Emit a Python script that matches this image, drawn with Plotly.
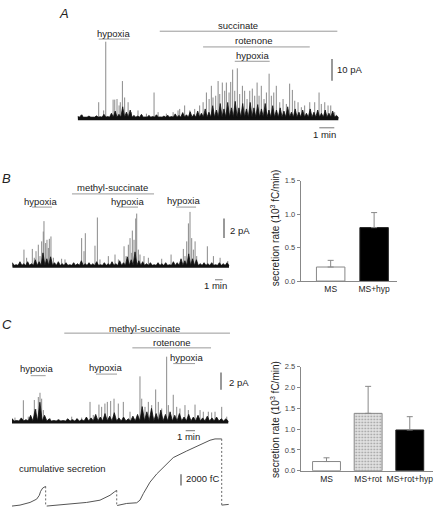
import plotly.graph_objects as go

W, H = 442, 514
FONT = "Liberation Sans, Arial, Helvetica, sans-serif"

# ===================== DATA =====================
# Panel A: amperometric spikes (time in min, amplitude in pA)
A_spike_t = [0.31, 1.40, 1.73, 1.87, 2.36, 2.47, 2.62, 2.76, 2.84, 2.98, 3.13, 3.36, 3.58, 4.02, 4.58,
             5.09, 5.36, 5.91, 6.36, 6.69, 6.80, 7.13, 7.47, 7.80, 8.13, 8.36, 8.58, 8.76, 8.91, 9.02,
             9.20, 9.36, 9.47, 9.64, 9.80, 9.91, 10.09, 10.20, 10.33, 10.47, 10.64, 10.80, 10.98, 11.13,
             11.29, 11.47, 11.64, 11.80, 11.96, 12.09, 12.24, 12.42, 12.58, 12.76, 12.91, 13.07, 13.24,
             13.47, 13.69, 13.91, 14.13, 14.31, 14.47, 14.69, 14.91, 15.13, 15.47, 15.80, 16.09, 16.24,
             16.47, 16.69, 16.87, 17.13]
A_spike_a = [1.8, 7.6, 3.8, 35.6, 8.8, 8.8, 9.1, 6.1, 7.6, 17.4, 9.8, 7.6, 3.0, 3.8, 2.3,
             12.1, 3.0, 2.3, 3.0, 3.8, 4.5, 6.1, 3.8, 4.5, 6.1, 7.6, 12.1, 9.1, 15.2, 9.8,
             10.6, 17.4, 11.4, 16.7, 12.9, 16.7, 12.1, 17.0, 22.7, 12.9, 23.3, 11.4, 15.2, 12.9,
             9.1, 12.9, 13.9, 10.6, 16.7, 10.6, 15.2, 9.1, 12.1, 20.8, 10.6, 12.1, 15.2,
             7.6, 9.1, 6.8, 16.2, 13.3, 8.3, 7.6, 5.3, 6.1, 7.6, 7.6, 12.1, 6.8,
             7.6, 6.1, 6.1, 3.0]
A_env_step = 0.25   # min, sampling of the dense small-event envelope
A_env_a = [1.0, 1.8, 0.8, 1.2, 0.7, 1.3, 0.9, 2.0, 1.0, 2.5,
           3.5, 2.0, 5.5, 3.0, 4.0, 1.5, 1.2, 2.0, 0.8, 1.5,
           1.0, 1.8, 0.8, 1.2, 1.6, 1.0, 2.2, 1.5, 2.8, 1.8,
           3.2, 2.0, 3.5, 2.5, 4.5, 3.0, 6.0, 4.0, 7.0, 4.5,
           7.5, 5.0, 8.0, 5.0, 7.0, 4.5, 7.5, 5.0, 6.5, 4.5,
           7.0, 4.0, 6.0, 4.0, 5.0, 3.5, 5.5, 3.0, 4.5, 3.0,
           4.0, 2.5, 4.5, 3.0, 4.0, 2.5, 4.0, 2.5, 3.5, 1.5]
A_drug_names = ["hypoxia", "succinate", "rotenone", "hypoxia"]
A_drug_start = [1.40, 5.47, 8.36, 10.47]
A_drug_end = [3.42, 17.31, 15.47, 12.80]
A_scale_pA = 10
A_scale_min = 1

# Panel B
B_spike_t = [1.52, 1.87, 2.61, 2.87, 3.09, 3.39, 3.61, 3.83, 4.04, 4.13, 4.35, 4.52, 4.70, 4.83, 5.04,
             5.35, 6.43, 6.87, 9.04, 9.35, 9.52, 10.78, 11.09, 11.43, 12.52, 13.39, 13.83, 14.57, 14.83,
             15.13, 15.35, 15.57, 15.65, 15.87, 16.09, 16.22, 16.43, 16.65, 17.17, 17.74, 19.48, 20.70,
             22.30, 22.52, 22.74, 22.96, 23.17, 23.39, 23.61, 23.83, 24.04, 25.43, 26.22, 27.09, 28.09]
B_spike_a = [1.73, 0.9, 1.8, 0.9, 1.57, 2.23, 1.07, 2.57, 3.57, 4.63, 2.4, 2.73, 1.9, 2.83, 3.07,
             0.9, 0.8, 0.73, 2.9, 1.57, 3.4, 2.13, 5.0, 0.73, 1.07, 1.23, 0.73, 2.07, 1.07,
             2.23, 2.9, 1.4, 3.67, 2.73, 4.9, 5.4, 1.73, 1.23, 1.07, 0.9, 0.8, 1.23,
             1.8, 1.07, 2.57, 4.4, 5.57, 2.9, 1.73, 2.57, 1.07, 2.07, 1.07, 0.9, 0.57]
B_env_step = 0.5
B_env_a = [0.4, 0.2, 0.5, 0.3, 0.5, 0.3, 0.7, 0.5, 1.4, 0.8,
           1.0, 0.4, 0.5, 0.3, 0.4, 0.2, 0.4, 0.3, 0.6, 0.3,
           0.4, 0.3, 0.5, 0.2, 0.4, 0.3, 0.5, 0.3, 0.6, 0.4,
           1.0, 0.7, 1.5, 0.6, 0.5, 0.3, 0.4, 0.2, 0.4, 0.3,
           0.4, 0.2, 0.5, 0.4, 0.8, 0.6, 1.3, 0.8, 0.7, 0.3,
           0.4, 0.3, 0.4, 0.2, 0.4, 0.3, 0.4]
B_drug_names = ["hypoxia", "methyl-succinate", "hypoxia", "hypoxia"]
B_drug_start = [2.57, 7.78, 13.87, 21.35]
B_drug_end = [5.17, 18.48, 16.39, 23.96]
B_scale_pA = 2
B_scale_min = 1

B_cats = ["MS", "MS+hyp"]
B_vals = [0.21, 0.80]
B_err = [0.10, 0.225]

# Panel C
C_spike_t = [0.32, 1.22, 1.75, 2.40, 2.58, 2.83, 3.01, 3.19, 3.37, 4.09, 4.98, 6.42, 6.95, 7.49, 8.39,
             8.74, 9.35, 9.64, 9.99, 10.25, 10.61, 10.97, 11.43, 11.97, 12.69, 13.76, 13.95, 14.30, 14.66,
             15.02, 15.45, 15.73, 16.10, 16.63, 16.81, 17.34, 17.71, 18.06, 18.60, 18.96, 19.68, 20.22,
             20.57, 21.11, 21.47, 21.83, 22.55, 23.09]
C_spike_a = [0.53, 2.53, 0.64, 2.56, 1.51, 2.90, 3.39, 2.71, 1.40, 0.45, 0.27, 0.64, 0.45, 0.53, 2.34,
             0.84, 2.03, 1.77, 2.15, 2.34, 2.45, 2.71, 2.15, 2.34, 1.21, 5.28, 2.71, 1.77, 2.34,
             1.97, 3.77, 2.34, 1.58, 7.54, 1.97, 3.16, 1.77, 1.58, 1.97, 1.40, 2.03, 1.40,
             1.21, 1.21, 1.13, 1.21, 1.77, 0.64]
C_env_step = 0.5
C_env_a = [0.4, 0.2, 0.5, 0.3, 0.8, 1.5, 2.3, 0.8, 0.4, 0.2,
           0.3, 0.2, 0.4, 0.3, 0.4, 0.3, 0.6, 0.5, 0.9, 0.6,
           1.0, 0.7, 1.1, 0.5, 0.6, 0.4, 0.7, 0.9, 1.8, 1.2,
           1.6, 1.0, 1.4, 0.9, 1.2, 0.8, 1.0, 0.6, 0.9, 0.6,
           0.8, 0.5, 0.7, 0.5, 0.6, 0.4, 0.4]
C_drug_names = ["methyl-succinate", "rotenone", "hypoxia", "hypoxia", "hypoxia"]
C_drug_start = [5.62, 12.94, 17.34, 2.01, 9.03]
C_drug_end = [23.44, 21.40, 19.68, 3.62, 11.29]
C_scale_pA = 2
C_scale_min = 1

# cumulative secretion (fC) segments
cum_seg_t = [[0.0, 0.86, 1.94, 2.65, 2.94, 3.08, 3.30, 3.55, 3.62],
             [3.73, 5.88, 8.03, 9.46, 10.54, 11.00, 11.26],
             [11.31, 12.33, 13.41, 13.76, 14.12, 14.84, 15.56, 16.63, 17.34, 18.78, 20.22, 21.29, 21.83, 22.55],
             [22.55, 23.30]]
cum_seg_v = [[0, 170, 640, 1220, 1910, 2610, 3190, 3480, 3480],
             [0, 290, 640, 1040, 1910, 2490, 2780],
             [100, 460, 580, 1040, 2200, 4230, 5680, 7420, 8580, 9740, 10900, 11650, 11880, 11880],
             [170, 290]]
reset_t = [3.62, 11.26, 22.55]
reset_from = [3480, 2780, 11880]
reset_to = [0, 100, 170]
cum_scale_fC = 2000

C_cats = ["MS", "MS+rot", "MS+rot+hyp"]
C_vals = [0.22, 1.38, 0.98]
C_err = [0.09, 0.65, 0.32]

# ===================== LAYOUT (pixel geometry) =====================
P_A = dict(i=1, x0=77.7, xr=345, ppm=15.0, base=116.7, ppu=2.2, top=15, bot=140)
P_B = dict(i=2, x0=12.3, xr=240, ppm=7.67, base=267.3, ppu=10.0, top=170, bot=292)
P_C = dict(i=4, x0=12.0, xr=240, ppm=9.3, base=425.7, ppu=8.85, top=320, bot=436)
P_S = dict(i=5, x0=12.0, xr=240, ppm=9.3, base=511.0, ppu=11.5 / 2000, top=436, bot=514)


def ax(i, a):
    return f"{a}axis" if i == 1 else f"{a}axis{i}"


def rf(i, a):
    return a if i == 1 else f"{a}{i}"


def ty(P, py):
    return (P["base"] - py) / P["ppu"]


def tx(P, px):
    return (px - P["x0"]) / P["ppm"]


fig = go.Figure()
layout = dict(width=W, height=H, margin=dict(l=0, r=0, t=0, b=0), showlegend=False,
              paper_bgcolor="white", plot_bgcolor="rgba(0,0,0,0)", hovermode=False,
              font=dict(family=FONT, size=9.5, color="#222"))
shapes, annotations = [], []

SPIKE_COL = "#8a8a8a"
DRUG_COL = "#9a9a9a"


def trace_axes(P):
    i = P["i"]
    layout[ax(i, "x")] = dict(domain=[P["x0"] / W, P["xr"] / W],
                              range=[0, (P["xr"] - P["x0"]) / P["ppm"]],
                              visible=False, anchor=rf(i, "y"), fixedrange=True)
    layout[ax(i, "y")] = dict(domain=[1 - P["bot"] / H, 1 - P["top"] / H],
                              range=[(P["base"] - P["bot"]) / P["ppu"], (P["base"] - P["top"]) / P["ppu"]],
                              visible=False, anchor=rf(i, "x"), fixedrange=True)


def add_spikes(P, ts, amps, env_step, env_a, band_px):
    i = P["i"]
    xs, ys = [], []
    for t, a in zip(ts, amps):
        xs += [t, t, None]
        ys += [0, a, None]
    fig.add_trace(go.Scatter(x=xs, y=ys, mode="lines", line=dict(color=SPIKE_COL, width=1),
                             xaxis=rf(i, "x"), yaxis=rf(i, "y")))
    # dense small events: narrow black triangles at each envelope sample
    mid = (band_px * 0.5) / P["ppu"]
    zx, zy = [0.0], [mid]
    for k, a in enumerate(env_a):
        t = k * env_step
        zx += [t, t + env_step * 0.5]
        zy += [a, mid]
    fig.add_trace(go.Scatter(x=zx, y=zy, mode="lines", fill="tozeroy", fillcolor="#111",
                             line=dict(color="#111", width=0.8),
                             xaxis=rf(i, "x"), yaxis=rf(i, "y")))
    # thick baseline
    fig.add_trace(go.Scatter(x=[0, zx[-1]], y=[0, 0], mode="lines",
                             line=dict(color="#111", width=band_px),
                             xaxis=rf(i, "x"), yaxis=rf(i, "y")))


def add_drugs(P, starts, ends, line_pys):
    i = P["i"]
    for s, e, py in zip(starts, ends, line_pys):
        shapes.append(dict(type="line", xref=rf(i, "x"), yref=rf(i, "y"), x0=s, x1=e,
                           y0=ty(P, py), y1=ty(P, py), line=dict(color=DRUG_COL, width=1)))


def add_vbar(P, px, py_bottom, size):
    i = P["i"]
    t = tx(P, px)
    y0 = ty(P, py_bottom)
    shapes.append(dict(type="line", xref=rf(i, "x"), yref=rf(i, "y"), x0=t, x1=t, y0=y0, y1=y0 + size,
                       line=dict(color="#777", width=1.5)))


def add_hbar(P, px_left, py, size):
    i = P["i"]
    t = tx(P, px_left)
    shapes.append(dict(type="line", xref=rf(i, "x"), yref=rf(i, "y"), x0=t, x1=t + size,
                       y0=ty(P, py), y1=ty(P, py), line=dict(color="#777", width=1)))


def text(s, px, py, xanchor="center", size=9.5, angle=0, color="#222"):
    annotations.append(dict(text=s, x=px / W, y=1 - py / H, xref="paper", yref="paper",
                            xanchor=xanchor, yanchor="middle", showarrow=False, textangle=angle,
                            font=dict(family=FONT, size=size, color=color)))


# ---------- Panel A ----------
trace_axes(P_A)
add_spikes(P_A, A_spike_t, A_spike_a, A_env_step, A_env_a, 3.0)
add_drugs(P_A, A_drug_start, A_drug_end, [35.7, 27.7, 43.7, 58.3])
for name, px, py in zip(A_drug_names, [113.3, 237.7, 254.0, 252.3], [30.0, 22.3, 37.3, 52.3]):
    text(name, px, py)
add_vbar(P_A, 332, 78, A_scale_pA)
text(f"{A_scale_pA} pA", 335, 66.7, xanchor="left")
add_hbar(P_A, 319.3, 126, A_scale_min)
text(f"{A_scale_min} min", 324.7, 132.5)
text("<i>A</i>", 64, 10, size=13)

# ---------- Panel B trace ----------
trace_axes(P_B)
add_spikes(P_B, B_spike_t, B_spike_a, B_env_step, B_env_a, 2.5)
add_drugs(P_B, B_drug_start, B_drug_end, [206.7, 193.3, 206.7, 206.7])
for name, px, py in zip(B_drug_names, [40.7, 112.7, 127.2, 183.8], [200.7, 186.7, 200.7, 200.0]):
    text(name, px, py)
add_vbar(P_B, 224, 238.3, B_scale_pA)
text(f"{B_scale_pA} pA", 228.3, 230.7, xanchor="left")
add_hbar(P_B, 215, 280.7, B_scale_min)
text(f"{B_scale_min} min", 215, 286.7)
text("<i>B</i>", 6.5, 178, size=13)

# ---------- Panel C trace ----------
trace_axes(P_C)
add_spikes(P_C, C_spike_t, C_spike_a, C_env_step, C_env_a, 2.5)
add_drugs(P_C, C_drug_start, C_drug_end, [335.0, 350.0, 366.0, 378.3, 376.7])
for name, px, py in zip(C_drug_names, [144.2, 171.7, 186.2, 36.7, 105.0],
                        [330.7, 345.0, 360.0, 370.7, 369.5]):
    text(name, px, py)
add_vbar(P_C, 221, 392.7, C_scale_pA)
text(f"{C_scale_pA} pA", 226.7, 385, xanchor="left")
add_hbar(P_C, 185.7, 434.3, C_scale_min)
text(f"{C_scale_min} min", 188, 440.7)
text("<i>C</i>", 7, 326, size=13)

# ---------- cumulative secretion ----------
trace_axes(P_S)
cx, cy = [], []
for ts, vs in zip(cum_seg_t, cum_seg_v):
    cx += ts + [None]
    cy += vs + [None]
fig.add_trace(go.Scatter(x=cx, y=cy, mode="lines", line=dict(color="#555", width=1),
                         xaxis="x5", yaxis="y5"))
dx, dy = [], []
for t, a, b in zip(reset_t, reset_from, reset_to):
    dx += [t, t, None]
    dy += [a, b, None]
fig.add_trace(go.Scatter(x=dx, y=dy, mode="lines", line=dict(color="#666", width=1, dash="2px,2px"),
                         xaxis="x5", yaxis="y5"))
add_vbar(P_S, 181, 490, cum_scale_fC)
text(f"{cum_scale_fC} fC", 184, 483.3, xanchor="left")
text("cumulative secretion", 62.2, 472.7)


# ---------- bar charts ----------
def bar_axes(i, xpx, ypx, xr, ymax, cats, tick_step):
    layout[ax(i, "x")] = dict(domain=[xpx[0] / W, xpx[1] / W], range=xr, anchor=rf(i, "y"),
                              showline=True, linecolor="#888", linewidth=1, ticks="",
                              tickvals=list(range(len(cats))), ticktext=cats, tickangle=0,
                              tickfont=dict(family=FONT, size=8.5, color="#222"),
                              showgrid=False, zeroline=False, fixedrange=True)
    n = int(round(ymax / tick_step))
    tv = [k * tick_step for k in range(n + 1)]
    layout[ax(i, "y")] = dict(domain=[1 - ypx[1] / H, 1 - ypx[0] / H], range=[0, ymax], anchor=rf(i, "x"),
                              showline=True, linecolor="#888", linewidth=1, ticks="outside",
                              ticklen=3, tickwidth=1, tickcolor="#888", tickvals=tv,
                              ticktext=[f"{v:.1f}" for v in tv],
                              tickfont=dict(family=FONT, size=7.5, color="#444"),
                              showgrid=False, zeroline=False, fixedrange=True)


bar_axes(3, (300.7, 396.7), (180, 282), [-0.69, 1.52], 1.5, B_cats, 0.5)
fig.add_trace(go.Bar(x=list(range(len(B_cats))), y=B_vals, width=0.655,
                     marker=dict(color=["white", "black"], line=dict(color=["#888", "#222"], width=1)),
                     error_y=dict(type="data", array=B_err, arrayminus=[0] * len(B_err), symmetric=False,
                                  color="#888", thickness=1, width=3),
                     xaxis="x3", yaxis="y3"))
text("secretion rate (10<sup>3</sup> fC/min)", 275, 228.3, angle=-90, size=10)

bar_axes(6, (300.7, 433.3), (369.3, 475), [-0.62, 2.565], 2.5, C_cats, 0.5)
fig.add_trace(go.Bar(x=list(range(len(C_cats))), y=C_vals, width=0.67,
                     marker=dict(color=["white", "#e2e2e2", "black"],
                                 line=dict(color=["#888", "#888", "#222"], width=1),
                                 pattern=dict(shape=["", ".", ""], fgcolor="#aaa", size=3, solidity=0.25)),
                     error_y=dict(type="data", array=C_err, arrayminus=[0] * len(C_err), symmetric=False,
                                  color="#888", thickness=1, width=3),
                     xaxis="x6", yaxis="y6"))
text("secretion rate (10<sup>3</sup> fC/min)", 275, 423.3, angle=-90, size=10)

layout["shapes"] = shapes
layout["annotations"] = annotations
fig.update_layout(**layout)
# remove the browser's default body margin so the 442x514 figure fills the window exactly
fig.write_html("out.html", config={"displayModeBar": False},
               post_script="document.body.style.margin='0px';")
